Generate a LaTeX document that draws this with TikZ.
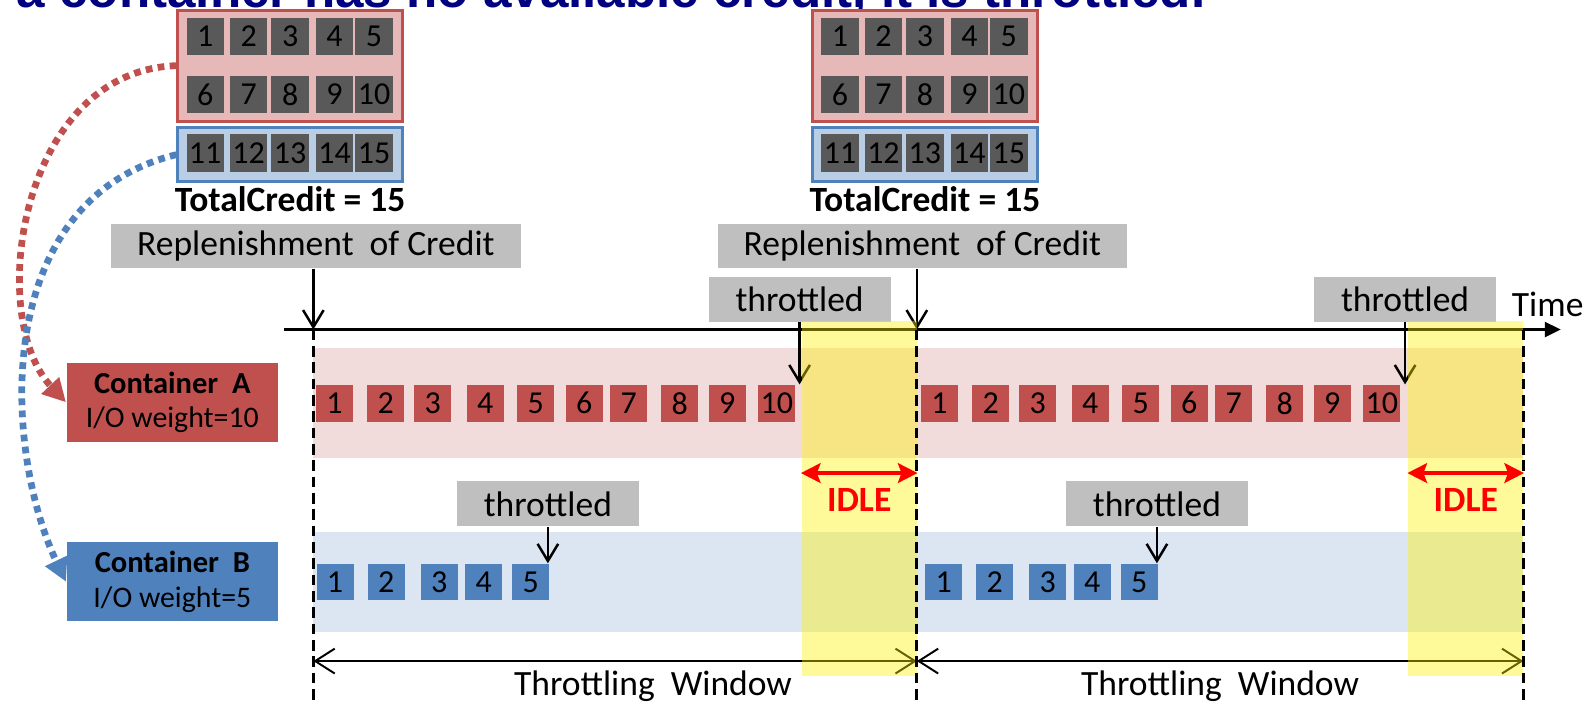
\documentclass[tikz,border=0pt]{standalone}
\usepackage{fontspec}
\setmainfont{Carlito}
\newfontfamily\titlefont{Liberation Sans}
\usetikzlibrary{arrows.meta,calc}
\definecolor{crimson}{HTML}{C0504D}
\definecolor{steel}{HTML}{4F81BD}
\definecolor{rosefill}{HTML}{E6B9B8}
\definecolor{skyfill}{HTML}{B9CDE5}
\definecolor{roseband}{HTML}{F2DCDB}
\definecolor{skyband}{HTML}{DCE6F2}
\definecolor{tagfill}{HTML}{BFBFBF}
\definecolor{slotfill}{HTML}{595959}
\definecolor{navy}{HTML}{000080}
\definecolor{idlered}{HTML}{FF0000}
\newcommand\lblfont{\fontsize{10}{12}\selectfont}
\newcommand\numfont{\fontsize{9}{10}\selectfont}
\tikzset{
  tag/.style={fill=tagfill, font=\lblfont, inner sep=0pt, minimum height=4.4mm},
  pool/.style={line width=0.85pt, inner sep=0pt, minimum width=22.2mm},
  slot/.style={fill=slotfill, font=\numfont, inner sep=0pt, minimum width=3.7mm, minimum height=3.7mm},
  req/.style={font=\numfont, inner sep=0pt, minimum width=3.65mm, minimum height=3.6mm},
  cont/.style={inner sep=0pt, minimum width=20.9mm, minimum height=7.8mm, align=center,
               font=\fontsize{8.4}{9.8}\selectfont},
  lane/.style={inner sep=0pt, minimum width=119.7mm},
  drop/.style={-{Straight Barb[length=4.8pt,width=5.8pt]}, line width=0.7pt},
  timeline/.style={-{Triangle[length=4.5pt,width=4.2pt]}, line width=0.75pt},
  winarrow/.style={{Straight Barb[length=5.5pt,width=7pt]}-{Straight Barb[length=5.5pt,width=7pt]},
                   line width=0.55pt},
  edge/.style={dash pattern=on 3pt off 1.6pt, line width=0.85pt},
  idlezone/.style={fill=yellow, fill opacity=0.4, inner sep=0pt, minimum width=11.4mm,
                   minimum height=35.1mm},
  idlearr/.style={{Stealth[length=5.5pt,width=5.5pt,inset=1pt]}-{Stealth[length=5.5pt,width=5.5pt,inset=1pt]},
                  draw=idlered, line width=1.15pt},
  share/.style={dash pattern=on 1.9pt off 1.5pt, line width=1.9pt,
                -{Triangle[length=6.5pt,width=6.5pt]}},
}

\begin{document}
\begin{tikzpicture}
  \useasboundingbox (0,0) rectangle (15.68,6.94);

  \node[lane, fill=roseband, minimum height=10.9mm] (laneA) at (9.085,2.955) {};
  \node[lane, fill=skyband, minimum height=9.9mm] (laneB) at (9.085,1.185) {};

  \node[font=\titlefont\bfseries\fontsize{14.4}{16}\selectfont, text=navy, anchor=base east,
        inner sep=0pt] (title) at (11.93,6.87) {If a container has no available credit, it is throttled.};

  \foreach \g/\lx in {1/1.76, 2/8.04} {
    \node[pool, draw=crimson, fill=rosefill, minimum height=11mm] (credR\g) at (\lx+1.11,6.29) {};
    \node[pool, draw=steel, fill=skyfill, minimum height=5.4mm] (credB\g) at (\lx+1.11,5.41) {};
    \foreach \n/\dx [evaluate=\n as \m using int(\n+5), evaluate=\n as \k using int(\n+10)]
        in {1/0.27, 2/0.70, 3/1.11, 4/1.55, 5/1.94} {
      \node[slot] (s\g-\n) at (\lx+\dx,6.58) {\n};
      \node[slot] (s\g-\m) at (\lx+\dx,6.005) {\m};
      \node[slot] (s\g-\k) at (\lx+\dx,5.425) {\k};
    }
    \node[font=\lblfont\bfseries, anchor=base, inner sep=0pt] (total\g) at (\lx+1.11,4.85) {TotalCredit = 15};
  }

  \node[tag, minimum width=40.5mm] (rep1) at (3.125,4.505) {Replenishment\ \ of Credit};
  \node[tag, minimum width=40.5mm] (rep2) at (9.125,4.505) {Replenishment\ \ of Credit};

  \foreach \i/\x in {0/3.10, 1/9.07, 2/15.07} {
    \coordinate (t\i) at (\x,3.68);
    \coordinate (w\i) at (\x,0.40);
    \coordinate (b\i) at (\x,0);
  }
  \coordinate (ax0) at (2.81,3.68);
  \coordinate (ax1) at (15.44,3.68);
  \draw[timeline] (ax0) -- (ax1);
  \node[font=\lblfont, anchor=base west, inner sep=0pt] (tlabel) at (14.95,3.805) {Time};
  \draw[drop] (rep1.south -| t0) -- (t0);
  \draw[drop] (rep2.south -| t1) -- (t1);

  \foreach \w/\s in {1/0, 2/5.985}
    \foreach \n/\x in {1/3.31, 2/3.815, 3/4.28, 4/4.80, 5/5.30, 6/5.78, 7/6.22, 8/6.725, 9/7.195, 10/7.685}
      \node[req, fill=crimson] (a\w-\n) at (\x+\s,2.95) {\n};
  \foreach \w/\s in {1/0, 2/6.02}
    \foreach \n/\x in {1/3.315, 2/3.82, 3/4.345, 4/4.785, 5/5.25}
      \node[req, fill=steel] (b\w-\n) at (\x+\s,1.18) {\n};

  \node[tag, minimum width=18mm, minimum height=4.45mm] (thrA1) at (7.91,3.98) {throttled};
  \node[tag, minimum width=18mm, minimum height=4.45mm] (thrA2) at (13.90,3.98) {throttled};
  \node[tag, minimum width=18mm, minimum height=4.45mm] (thrB1) at (5.42,1.955) {throttled};
  \node[tag, minimum width=18mm, minimum height=4.45mm] (thrB2) at (11.445,1.955) {throttled};
  \draw[drop] (thrA1.south) -- (thrA1.south |- a1-10.north);
  \draw[drop] (thrA2.south) -- (thrA2.south |- a2-10.north);
  \draw[drop] (thrB1.south) -- (thrB1.south |- b1-5.north);
  \draw[drop] (thrB2.south) -- (thrB2.south |- b2-5.north);

  \node[cont, fill=crimson] (contA) at (1.705,2.96)
       {{\bfseries\fontsize{8.6}{9.8}\selectfont Container\ \ A}\\I/O weight=10};
  \node[cont, fill=steel] (contB) at (1.705,1.185)
       {{\bfseries\fontsize{8.6}{9.8}\selectfont Container\ \ B}\\I/O weight=5};
  \draw[share, draw=crimson] (credR1.west) .. controls +(-1.55,-0.05) and +(-0.8,0.85) .. (contA.west);
  \draw[share, draw=steel] (credB1.west) .. controls +(-1.85,-0.45) and +(-0.62,1.3) .. (contB.west);

  \draw[winarrow] (w0) -- (w1);
  \draw[winarrow] (w1) -- (w2);
  \node[font=\lblfont, anchor=base, inner sep=0pt] (win1) at (6.46,0.06) {Throttling\ \ Window};
  \node[font=\lblfont, anchor=base, inner sep=0pt] (win2) at (12.07,0.06) {Throttling\ \ Window};

  \node[idlezone] (idle1) at (8.50,2.005) {};
  \node[idlezone] (idle2) at (14.50,2.005) {};

  \foreach \i in {0,1,2}
    \draw[edge] (t\i) -- (b\i);

  \foreach \k in {1,2} {
    \draw[idlearr] ([yshift=2.55mm]idle\k.west) -- ([yshift=2.55mm]idle\k.east);
    \node[font=\lblfont\bfseries, text=idlered, inner sep=0pt] (idlelbl\k) at ([yshift=-0.15mm]idle\k.center) {IDLE};
  }
\end{tikzpicture}
\end{document}
